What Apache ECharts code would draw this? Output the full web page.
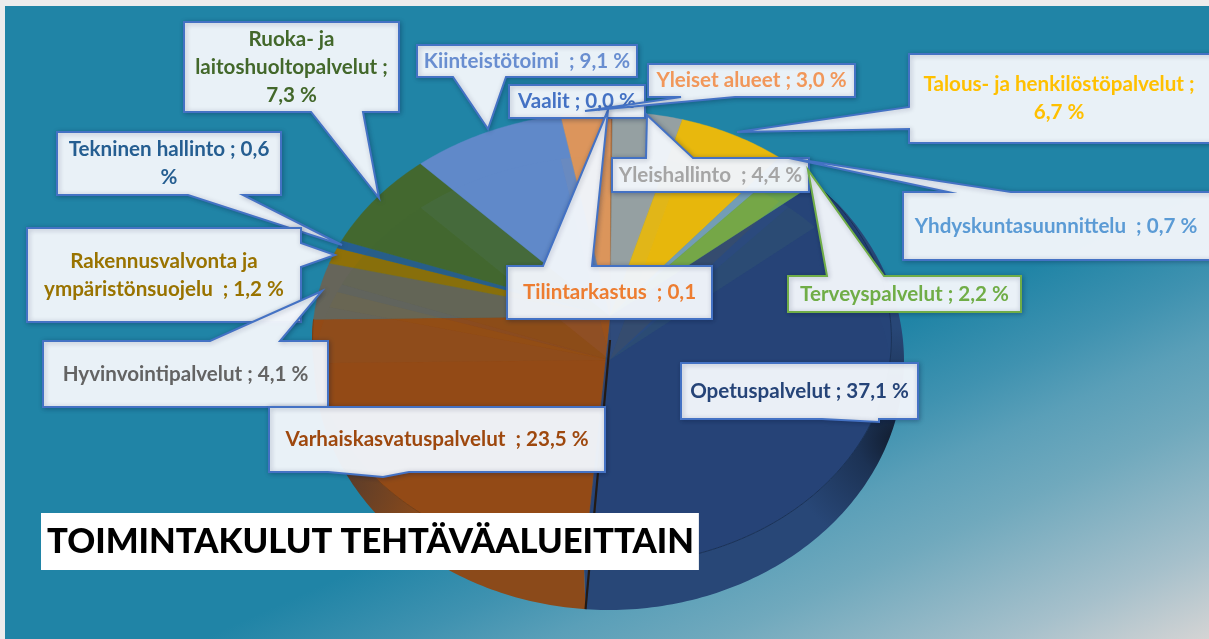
<!DOCTYPE html>
<html><head><meta charset="utf-8">
<style>html,body{margin:0;padding:0;background:#fff}#c{width:1209px;height:639px}</style>
<script src="https://cdn.jsdelivr.net/npm/echarts@6/dist/echarts.min.js"></script>
</head><body><div id="c"></div>
<script>
// clockwise from the Opetuspalvelut slice
const categories = ['Opetuspalvelut','Varhaiskasvatuspalvelut','Hyvinvointipalvelut','Rakennusvalvonta ja ympäristönsuojelu','Tekninen hallinto','Ruoka- ja laitoshuoltopalvelut','Kiinteistötoimi','Yleiset alueet','Tilintarkastus','Vaalit','Yleishallinto','Talous- ja henkilöstöpalvelut','Yhdyskuntasuunnittelu','Terveyspalvelut'];
const shares = [37.1,23.5,4.1,1.2,0.6,7.3,9.1,3.0,0.1,0.0,4.4,6.7,0.7,2.2];
const sliceColors = ['#264478','#934a16','#66655a','#8f7008','#255e91','#43682f','#6089c9','#dc955c','#a8693a','#ffcd33','#95a0a2','#e8b80d','#6a9cc4','#6ca64c'];
const labelLines = [['Opetuspalvelut ; 37,1 %'],['Varhaiskasvatuspalvelut  ; 23,5 %'],['Hyvinvointipalvelut ; 4,1 %'],['Rakennusvalvonta ja','ympäristönsuojelu  ; 1,2 %'],['Tekninen hallinto ; 0,6','%'],['Ruoka- ja','laitoshuoltopalvelut ;','7,3 %'],['Kiinteistötoimi  ; 9,1 %'],['Yleiset alueet ; 3,0 %'],['Tilintarkastus  ; 0,1'],['Vaalit ; 0,0 %'],['Yleishallinto  ; 4,4 %'],['Talous- ja henkilöstöpalvelut ;','6,7 %'],['Yhdyskuntasuunnittelu  ; 0,7 %'],['Terveyspalvelut ; 2,2 %']];
const labelColors = ['#264478','#9e480e','#636363','#997300','#255e91','#43682b','#698ed0','#f1975a','#ed7d31','#4472c4','#a5a5a5','#ffc000','#5b9bd5','#70ad47'];
const titleText = 'TOIMINTAKULUT TEHTÄVÄALUEITTAIN';

// callout layout: box [x0,y0,x1,y1], tail edge, tail base a-b, tail tip
const calloutLayout = {
  5:{box:[184,22,399,112],edge:'bottom',a:311,b:363,tip:[379,198]},
  4:{box:[57,132,281,195],edge:'bottom',a:188,b:243,tip:[342,245]},
  3:{box:[27,228,301,322],edge:'right',a:243,b:267,tip:[335,255]},
  2:{box:[43,341,328,407],edge:'top',a:210,b:280,tip:[322,291]},
  1:{box:[269,407,605,472],edge:'bottom',a:328,b:409,tip:[383,477]},
  0:{box:[681,363,918,419],edge:'bottom',a:822,b:879,tip:[879,422]},
  6:{box:[417,45,637,77],edge:'bottom',a:453,b:506,tip:[488,129]},
  9:{box:[509,85,645,118]},
  8:{box:[507,266,712,319],edge:'top',a:543,b:592,tip:[608,110]},
  7:{box:[648,64,855,97],edge:'bottom',a:681,b:735,tip:[585,111]},
  10:{box:[612,158,809,192],edge:'top',a:646,b:693,tip:[647,115]},
  11:{box:[909,54,1215,143],edge:'left',a:107,b:129,tip:[737,132]},
  12:{box:[903,192,1215,260],edge:'top',a:948,b:1011,tip:[789,158]},
  13:{box:[788,276,1021,312],edge:'top',a:827,b:884,tip:[808,170],stroke:'#70ad47'}
};
const calloutOrder = [5,4,3,2,1,0,6,9,8,7,10,11,12,13];

// projection of the pie disc onto the screen
const apex = [610,316], radiusLeft = 296, radiusRight = 280, radiusY = 224.3, persp = 0.0993, depth = 44, startAngle = 51;
const outerCentre = [609,361], outerRadius = [295,249];
function project(deg){
  const t = deg*Math.PI/180, u = Math.sin(t), v = Math.cos(t), w = 1+persp*v;
  return [apex[0]+(u<0?radiusLeft:radiusRight)*u/w, apex[1]-radiusY*v/w];
}
function outer(deg){
  const t = deg*Math.PI/180;
  return [outerCentre[0]+outerRadius[0]*Math.sin(t), outerCentre[1]-outerRadius[1]*Math.cos(t)];
}
const total = shares.reduce((a,b)=>a+b,0);
function sliceAngles(i){
  let before = 0; for(let k=0;k<i;k++) before += shares[k];
  return [startAngle+before/total*360, startAngle+(before+shares[i])/total*360];
}
function sweep(i,fn){
  const [a,b] = sliceAngles(i), pts = [], n = Math.max(1,Math.ceil(b-a));
  for(let k=0;k<=n;k++) pts.push(fn(a+(b-a)*k/n));
  return pts;
}
const rim = i => sweep(i,project);
const low = q => [q[0],q[1]+depth];
const chart = echarts.init(document.getElementById('c'),null,{renderer:'canvas'});
const idx = categories.map((c,i)=>({name:c,value:[i,shares[i]]}));
const empty = {type:'group',children:[]};
const wallFills = {
  0:{type:'radial',global:true,x:897,y:440,r:112,colorStops:[{offset:0,color:'#111c2e'},{offset:.35,color:'#1c3254'},{offset:1,color:'#284777'}]},
  1:{type:'radial',global:true,x:345,y:482,r:85,colorStops:[{offset:0,color:'#5a3c2a'},{offset:1,color:'#8b4a1a'}]}
};
const rimStroke = {0:'#1b3156',1:'#7b3f14'};
function topItem(p,api){
  const i = api.value(0); if(!shares[i]) return empty;
  return {type:'polygon',shape:{points:[apex].concat(rim(i))},style:{fill:sliceColors[i],stroke:sliceColors[i],lineWidth:.4}};
}
// the tops are translucent in the picture: the lower disc shows through
function floorItem(p,api){
  const i = api.value(0); if(!shares[i]) return empty;
  const la = low(apex);
  const pts = i===1 ? [la,low(rim(1)[rim(1).length-1])].concat(rim(1).reverse()) : [la].concat(rim(i).map(low));
  return {type:'polygon',shape:{points:pts},style:{fill:sliceColors[i],opacity:.08}};
}
function wallItem(p,api){
  const i = api.value(0), r = rim(i);
  return {type:'group',children:[
    {type:'polygon',shape:{points:r.concat(sweep(i,outer).reverse())},style:{fill:wallFills[i]}},
    {type:'polyline',shape:{points:r},style:{stroke:rimStroke[i],lineWidth:1,fill:null}}
  ]};
}
function cutItem(p,api){
  const a = sliceAngles(0)[1];
  const end = outer(a);
  return {type:'line',shape:{x1:apex[0],y1:apex[1]+24,x2:end[0],y2:end[1]},style:{stroke:'#231a14',lineWidth:2.2}};
}
function calloutItem(p,api){
  const i = api.value(0), L = calloutLayout[i], [x0,y0,x1,y1] = L.box, pts = [];
  const t = L.edge;
  pts.push([x0,y0]);
  if(t==='top') pts.push([L.a,y0],L.tip,[L.b,y0]);
  pts.push([x1,y0]);
  if(t==='right') pts.push([x1,L.a],L.tip,[x1,L.b]);
  pts.push([x1,y1]);
  if(t==='bottom') pts.push([L.b,y1],L.tip,[L.a,y1]);
  pts.push([x0,y1]);
  if(t==='left') pts.push([x0,L.b],L.tip,[x0,L.a]);
  const lines = labelLines[i], lh = 28, cx = (Math.min(x1,1209)+x0)/2, cy = (y0+y1)/2;
  const kids = [{type:'polygon',shape:{points:pts},style:{fill:'rgba(243,247,252,0.96)',stroke:L.stroke||'#4472c4',lineWidth:2,lineJoin:'miter',shadowBlur:5,shadowColor:'rgba(0,20,60,0.3)',shadowOffsetX:1,shadowOffsetY:1}}];
  lines.forEach((s,k)=>kids.push({type:'text',style:{text:s,x:cx,y:cy+(k-(lines.length-1)/2)*lh,align:'center',verticalAlign:'middle',fill:labelColors[i],font:'bold 20.6px Lato'}}));
  return {type:'group',children:kids};
}
const bgStops = [{offset:0,color:'#2084a6'},{offset:.199,color:'#3f92b0'},{offset:.342,color:'#5a9fb8'},{offset:.508,color:'#70a9bd'},{offset:.799,color:'#a6c0cb'},{offset:1,color:'#d4d4d4'}];
chart.setOption({
  animation:false,
  backgroundColor:'#ececec',
  title:{text:titleText,left:41,top:513,padding:[10,5,9,6],backgroundColor:'#fff',textStyle:{color:'#000',fontFamily:'Lato',fontWeight:900,fontSize:34.6,lineHeight:38},z:20},
  graphic:[{type:'rect',z:0,shape:{x:5,y:6,width:1204,height:633},style:{fill:{type:'linear',global:true,x:1039.5,y:262.3,x2:1209,y2:639,colorStops:bgStops}}}],
  series:[
    {type:'custom',name:'slices',coordinateSystem:'none',z:2,renderItem:topItem,data:idx,silent:true},
    {type:'custom',name:'floor',coordinateSystem:'none',z:3,renderItem:floorItem,data:idx,silent:true},
    {type:'custom',name:'walls',coordinateSystem:'none',z:3,renderItem:wallItem,data:[idx[0],idx[1]],silent:true},
    {type:'custom',name:'cut',coordinateSystem:'none',z:4,renderItem:cutItem,data:[idx[0]],silent:true},
    {type:'custom',name:'callouts',coordinateSystem:'none',z:5,renderItem:calloutItem,data:calloutOrder.map(i=>idx[i]),silent:true}
  ]
});
</script></body></html>
